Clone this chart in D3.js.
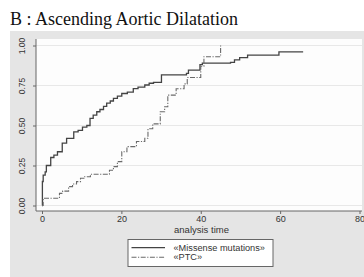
<!DOCTYPE html>
<html><head><meta charset="utf-8">
<script src="https://cdn.jsdelivr.net/npm/d3@7"></script>
<style>html,body{margin:0;padding:0;background:#fff;}svg{display:block;}</style>
</head><body>
<svg id="c" width="364" height="277"></svg>
<script>
const title = "B : Ascending Aortic Dilatation";
const xLabel = "analysis time";
const xTicks = [0, 20, 40, 60, 80];
const yTicks = [0, 0.25, 0.5, 0.75, 1];
const seriesNames = ["«Missense mutations»", "«PTC»"];
const missenseTime = [0, 0.1, 0.3, 0.8, 1.1, 2.2, 3.0, 3.9, 5.1, 6.2, 8.0, 9.1, 10.2, 11.3, 12.1, 12.9, 13.8, 14.6, 15.5, 16.3, 17.2, 18.0, 19.0, 20.1, 21.5, 23.0, 24.2, 25.9, 27.0, 28.1, 30.1, 36.4, 36.9, 39.8, 40.4, 47.5, 48.5, 49.8, 51.8, 59.7, 65.8];
const missenseProb = [0, 0.15, 0.19, 0.21, 0.25, 0.30, 0.315, 0.336, 0.39, 0.42, 0.46, 0.47, 0.49, 0.50, 0.545, 0.565, 0.586, 0.60, 0.62, 0.64, 0.653, 0.67, 0.684, 0.70, 0.709, 0.73, 0.74, 0.753, 0.764, 0.77, 0.816, 0.826, 0.846, 0.88, 0.89, 0.895, 0.91, 0.924, 0.94, 0.96, 0.96];
const ptcTime = [0, 0.3, 4.4, 5.2, 6.7, 7.7, 8.7, 9.7, 10.6, 12.2, 17.0, 18.0, 19.0, 20.1, 21.4, 23.8, 25.9, 26.7, 27.9, 29.8, 30.9, 31.7, 33.8, 35.8, 36.6, 40.0, 40.8, 45.0];
const ptcProb = [0, 0.045, 0.076, 0.09, 0.118, 0.134, 0.149, 0.17, 0.18, 0.195, 0.22, 0.243, 0.274, 0.336, 0.368, 0.40, 0.42, 0.48, 0.51, 0.586, 0.617, 0.69, 0.73, 0.76, 0.80, 0.87, 0.93, 1.0];

const svg = d3.select("#c");
svg.append("rect").attr("x",10).attr("y",31).attr("width",354).attr("height",246).attr("fill","#e5e5e5");
const P = {l:36, r:362, t:39, b:211};
svg.append("rect").attr("x",P.l).attr("y",P.t).attr("width",P.r-P.l).attr("height",P.b-P.t).attr("fill","#fdfdfd");

const x = d3.scaleLinear().domain([0,80]).range([42,359.5]);
const y = d3.scaleLinear().domain([0,1]).range([205.5,45.5]);

svg.append("g").selectAll("line").data(yTicks).join("line")
  .attr("x1",P.l).attr("x2",P.r).attr("y1",d=>y(d)).attr("y2",d=>y(d))
  .attr("stroke","#e8e8e8").attr("stroke-width",1.2);

svg.append("text").attr("x",10).attr("y",25).text(title)
  .attr("font-family","Liberation Serif, Times New Roman, serif").attr("font-size",18).attr("fill","#111");

const fmt = d3.format(".2f");
const yAxis = svg.append("g").attr("transform",`translate(${P.l},0)`)
  .call(d3.axisLeft(y).tickValues(yTicks).tickSize(3).tickPadding(2).tickFormat(fmt));
yAxis.select(".domain").attr("d",`M0,${P.t}V${P.b}`).attr("stroke","#666");
yAxis.selectAll(".tick line").attr("stroke","#666");
yAxis.selectAll(".tick text").attr("transform","rotate(-90)").attr("x",0).attr("y",-11)
  .attr("text-anchor","middle").attr("dy","0")
  .attr("font-family","Liberation Sans, Arial, sans-serif").attr("font-size",8.5).attr("fill","#333");

const xAxis = svg.append("g").attr("transform",`translate(0,${P.b})`)
  .call(d3.axisBottom(x).tickValues(xTicks).tickSize(3).tickPadding(2).tickFormat(d3.format("d")));
xAxis.select(".domain").attr("d",`M${P.l},0H${P.r}`).attr("stroke","#666");
xAxis.selectAll(".tick line").attr("stroke","#666");
xAxis.selectAll(".tick text").attr("font-family","Liberation Sans, Arial, sans-serif").attr("font-size",9).attr("fill","#333");

svg.append("text").attr("x",201.5).attr("y",233).attr("text-anchor","middle").text(xLabel)
  .attr("font-family","Liberation Sans, Arial, sans-serif").attr("font-size",9.5).attr("fill","#333");

const line = d3.line().x(d=>x(d[0])).y(d=>y(d[1])).curve(d3.curveStepAfter);
const missense = d3.zip(missenseTime, missenseProb);
const ptc = d3.zip(ptcTime, ptcProb);
const styles = [{c:"#444", dash:null, w:1.3},{c:"#6a6a6a", dash:"5,1.5,1.2,1.5", w:1.1}];
svg.append("path").datum(missense).attr("d",line).attr("fill","none").attr("stroke",styles[0].c).attr("stroke-width",styles[0].w);
svg.append("path").datum(ptc).attr("d",line).attr("fill","none").attr("stroke",styles[1].c).attr("stroke-width",styles[1].w).attr("stroke-dasharray",styles[1].dash);

const lg = svg.append("g");
lg.append("rect").attr("x",128).attr("y",239.5).attr("width",145).attr("height",27).attr("fill","#fff").attr("stroke","#666").attr("stroke-width",1);
seriesNames.forEach((n,i)=>{
  const yy = 247.7 + i*9.6;
  lg.append("line").attr("x1",131.5).attr("x2",165).attr("y1",yy).attr("y2",yy)
    .attr("stroke",styles[i].c).attr("stroke-width",styles[i].w).attr("stroke-dasharray",styles[i].dash);
  lg.append("text").attr("x",173.5).attr("y",yy+3).text(n)
    .attr("font-family","Liberation Sans, Arial, sans-serif").attr("font-size",9.2).attr("fill","#333");
});
</script>
</body></html>
